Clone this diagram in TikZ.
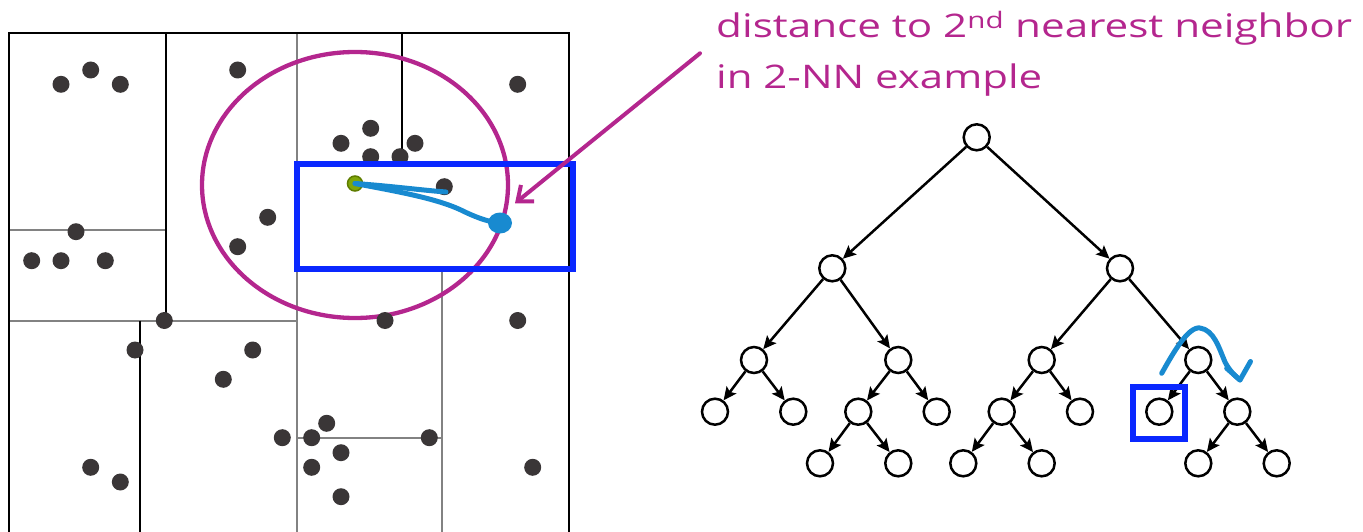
\documentclass[tikz,border=0pt]{standalone}
\usepackage{fontspec}
\setmainfont{Open Sans}
\usetikzlibrary{arrows.meta,shapes.geometric}
\definecolor{mag}{RGB}{180,38,142}
\definecolor{pen}{RGB}{24,138,208}
\definecolor{boxblue}{RGB}{10,40,255}
\definecolor{dotc}{RGB}{58,54,55}
\definecolor{olivefill}{RGB}{128,166,10}
\definecolor{olivedraw}{RGB}{95,125,0}
\definecolor{gline}{RGB}{130,130,130}
\begin{document}
\begin{tikzpicture}[x=1pt,y=-1pt,
  bline/.style={black,line width=2pt},
  gl/.style={gline,line width=2pt},
  pt/.style={circle,fill=dotc,minimum size=17pt,inner sep=0pt},
  tn/.style={circle,draw=black,line width=2.5pt,minimum size=26pt,inner sep=0pt},
  tarrow/.style={line width=2.5pt,-{Stealth[length=13pt,width=12pt,inset=2.5pt]}},
  penline/.style={pen,line width=5pt,line cap=round,line join=round},
  lbl/.style={anchor=base west,text=mag,inner sep=0pt,font=\fontsize{32.5}{40}\selectfont}
]
\useasboundingbox (0,0) rectangle (1363,532);
% ---- kd-tree partition ----
\draw[gl] (9,230) -- (166,230);
\draw[gl] (9,320.5) -- (297,320.5);
\draw[gl] (297,33) -- (297,532);
\draw[gl] (297,437.7) -- (441.7,437.7);
\draw[gl] (441.7,269) -- (441.7,532);
\draw[bline] (166,33) -- (166,320.5);
\draw[bline] (140,320.5) -- (140,532);
\draw[bline] (402,33) -- (402,163);
\draw[bline] (9,532) -- (9,33) -- (569.3,33) -- (569.3,532);
% ---- circle of radius r ----
\draw[mag,line width=4.3pt] (355,185) ellipse [x radius=153,y radius=133];
% ---- data points ----
\foreach \x/\y [count=\i] in {61/84.3, 90.7/70, 120.3/84.3, 237.7/70, 76/231.7, 31.7/260.7,
  61/260.7, 105.3/260.7, 267.7/217.3, 237.7/246.7, 164.3/320.5, 517.7/84.3, 370.7/128.3,
  341/143.3, 415/143.3, 370.7/156.7, 400/156.7, 444.3/186.7, 385/320.5, 517.7/320.5,
  135/350, 252.7/350, 223.3/379.3, 282.3/437.7, 90.7/467.3, 120.3/482, 326.7/423.3,
  311.7/437.7, 429.3/437.7, 341/452.7, 311.7/467.3, 532.7/467.3, 341/496.7}
  \node[pt] (d\i) at (\x,\y) {};
% ---- query box ----
\draw[boxblue,line width=6pt] (297,164) rectangle (572.5,269);
% ---- pen strokes ----
\node[ellipse,fill=pen,minimum width=24pt,minimum height=21pt,inner sep=0pt] (nn2) at (500,223) {};
\node[circle,fill=olivefill,draw=olivedraw,line width=1.5pt,minimum size=15pt,inner sep=0pt] (q) at (355,183.5) {};
\draw[penline] (q.center) .. controls (390,186) and (420,190) .. (446,192);
\draw[penline] (q.center) .. controls (400,192) and (440,199) .. (465,212)
  .. controls (480,219) and (490,222) .. (nn2.center);
% ---- label ----
\node[lbl] (l1) at (716,37.3) {\resizebox{636pt}{\height}{distance to 2\textsuperscript{nd} nearest neighbor}};
\node[lbl] (l2) at (716,88.3) {\resizebox{326pt}{\height}{in 2-NN example}};
\coordinate (as) at (700,53.3);
\coordinate (ae) at (515,203.3);
\draw[mag,line width=4pt,line cap=round,-{Straight Barb[length=13pt,width=21pt]}] (as) -- (ae);
% ---- tree ----
\node[tn] (r) at (976.7,137.3) {};
\node[tn] (a) at (832.3,268.3) {};
\node[tn] (b) at (1120,268.3) {};
\node[tn] (aa) at (754,360) {};
\node[tn] (ab) at (898.3,360) {};
\node[tn] (ba) at (1041.7,360) {};
\node[tn] (bb) at (1198.3,360) {};
\node[tn] (aaa) at (715,411.7) {};
\node[tn] (aab) at (793.3,411.7) {};
\node[tn] (aba) at (858.3,411.7) {};
\node[tn] (abb) at (936.7,411.7) {};
\node[tn] (baa) at (1001.7,411.7) {};
\node[tn] (bab) at (1080,411.7) {};
\node[tn] (bba) at (1159.3,411.7) {};
\node[tn] (bbb) at (1237.3,411.7) {};
\node[tn] (abaa) at (820,463.3) {};
\node[tn] (abab) at (898.3,463.3) {};
\node[tn] (baaa) at (963.3,463.3) {};
\node[tn] (baab) at (1041.7,463.3) {};
\node[tn] (bbba) at (1198.3,463.3) {};
\node[tn] (bbbb) at (1276.7,463.3) {};
\foreach \p/\c in {r/a, r/b, a/aa, a/ab, b/ba, b/bb, aa/aaa, aa/aab, ab/aba, ab/abb,
  ba/baa, ba/bab, bb/bba, bb/bbb, aba/abaa, aba/abab, baa/baaa, baa/baab, bbb/bbba, bbb/bbbb}
  \draw[tarrow] (\p) -- (\c);
% ---- highlighted leaf ----
\draw[boxblue,line width=6pt] (1133,387) rectangle (1184.7,438.7);
% ---- backtracking stroke ----
\coordinate (s0) at (1161.7,373.3);
\coordinate (s1) at (1240,380);
\coordinate (s2) at (1250.5,361.5);
\draw[penline] (s0) .. controls (1172,355) and (1188,326) .. (1200,328)
  .. controls (1214,330) and (1219,348) .. (1225,362)
  .. controls (1229,370) and (1235,376) .. (s1) -- (s2);
\draw[penline] (1226.7,368.3) -- (s1);
\end{tikzpicture}
\end{document}
